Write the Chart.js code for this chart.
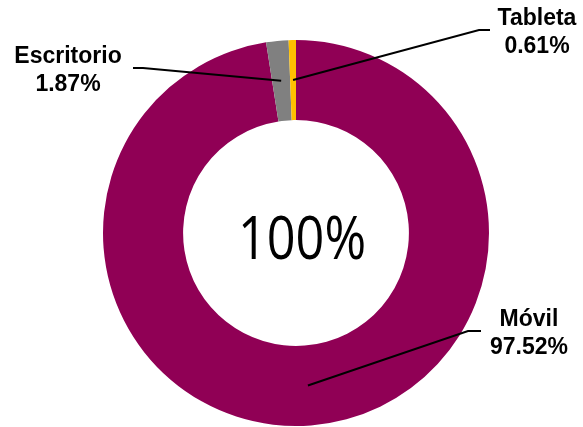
<!DOCTYPE html>
<html>
<head>
<meta charset="utf-8">
<script src="https://cdn.jsdelivr.net/npm/chart.js@4/dist/chart.umd.min.js"></script>
<style>
  html, body { margin: 0; padding: 0; background: #fff; }
  #wrap { width: 583px; height: 427px; }
</style>
</head>
<body>
<div id="wrap"><canvas id="donut" width="583" height="427"></canvas></div>
<script>
// datos del gráfico
const categorias = ["Móvil", "Escritorio", "Tableta"];
const porcentajes = [97.52, 1.87, 0.61];
const colores = ["#900055", "#808080", "#FFC000"];
const textoCentro = "100%";

// posición de cada etiqueta (centro del texto, línea base de la primera fila)
// y del codo de la línea guía
const etiquetas = [
  { x: 529, y: 326, codoX: 468, codoY: 331, inicioX: 481 },
  { x: 68, y: 63, codoX: 143, codoY: 68, inicioX: 133 },
  { x: 537, y: 25, codoX: 479, codoY: 30, inicioX: 490 }
];

const lineasGuia = {
  id: "lineasGuia",
  afterDatasetsDraw(chart) {
    const ctx = chart.ctx;
    const arcos = chart.getDatasetMeta(0).data;
    ctx.save();
    // texto del centro
    const c = arcos[0];
    ctx.save();
    ctx.translate(c.x + 6, 259);
    ctx.scale(0.84, 1);
    ctx.font = "60px 'Open Sans'";
    ctx.fillStyle = "#000";
    ctx.textAlign = "center";
    ctx.textBaseline = "alphabetic";
    ctx.fillText(textoCentro, 0, 0);
    ctx.restore();

    arcos.forEach((arco, i) => {
      const p = arco.tooltipPosition();
      const e = etiquetas[i];
      ctx.strokeStyle = "#000";
      ctx.lineWidth = 2;
      ctx.beginPath();
      ctx.moveTo(e.inicioX, e.codoY);
      ctx.lineTo(e.codoX, e.codoY);
      ctx.lineTo(p.x, p.y);
      ctx.stroke();

      ctx.fillStyle = "#000";
      ctx.font = "bold 23px 'Liberation Sans'";
      ctx.textAlign = "center";
      ctx.textBaseline = "alphabetic";
      ctx.fillText(categorias[i], e.x, e.y);
      ctx.fillText(porcentajes[i].toFixed(2) + "%", e.x, e.y + 28);
    });
    ctx.restore();
  }
};

const context = document.getElementById("donut").getContext("2d");
new Chart(context, {
  type: "doughnut",
  data: {
    labels: categorias,
    datasets: [
      {
        data: porcentajes,
        backgroundColor: colores,
        borderWidth: 0
      }
    ]
  },
  options: {
    responsive: false,
    animation: false,
    cutout: "58.5%",
    layout: { padding: { left: 103, right: 94, top: 40, bottom: 1 } },
    plugins: {
      legend: { display: false },
      tooltip: { enabled: false }
    }
  },
  plugins: [lineasGuia]
});
</script>
</body>
</html>
